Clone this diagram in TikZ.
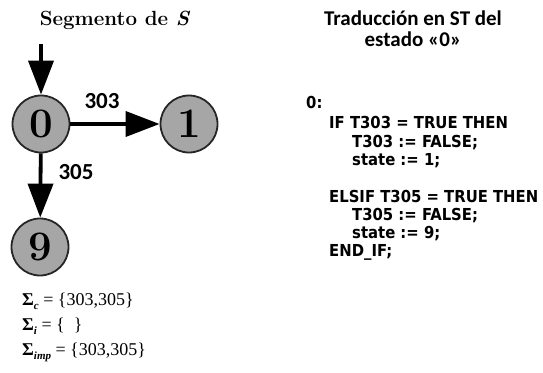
\documentclass[tikz,border=0pt]{standalone}
\usepackage{fontspec}
\newfontfamily\codefont{DejaVu Sans Condensed}
\newfontfamily\headfont{Carlito}
\newfontfamily\setfont{Liberation Serif}
\usetikzlibrary{arrows.meta}

\newcommand{\evset}[2]{{\bfseries Σ}\raisebox{-4pt}{\fontsize{11}{11}\selectfont\bfseries\itshape #1}\ = #2}

\begin{document}
\begin{tikzpicture}[x=1pt,y=-1pt,
    state/.style={circle,draw=black!85,line width=1.8pt,fill=gray!70,
      minimum size=57pt,inner sep=0pt,font=\fontsize{42}{42}\selectfont\bfseries},
    trans/.style={line width=3.8pt,-{Triangle[width=25pt,length=34pt]}},
    tlabel/.style={font=\headfont\fontsize{23}{23}\selectfont\bfseries},
    codeline/.style={anchor=base west,inner sep=0pt,font=\codefont\fontsize{16.5}{16.5}\selectfont\bfseries},
    sigline/.style={anchor=base west,inner sep=0pt,font=\setfont\fontsize{18}{18}\selectfont}]
  \useasboundingbox (0,0) rectangle (543,372);

  % titles
  \node[font=\fontsize{20.5}{20.5}\selectfont\bfseries] (segtitle) at (115,20) {Segmento de \textit{S}};
  \node[font=\headfont\fontsize{21}{21}\selectfont\bfseries,align=center] (sttitle) at (413,29)
    {Traducción en ST del\\[0pt]estado «0»};

  % automaton
  \node[state] (n0) at (41,124) {0};
  \node[state] (n1) at (189,124) {1};
  \node[state] (n9) at (40,247) {9};
  \coordinate (init) at (41,44);

  \draw[trans] (init) -- (n0);
  \draw[trans] (n0) -- (n1);
  \draw[trans] (n0) -- (n9);
  \node[tlabel] (l303) at (102,101) {303};
  \node[tlabel] (l305) at (76,172) {305};

  % event sets
  \node[sigline] (sigc) at (22,305) {\evset{c}{\{303,305\}}};
  \node[sigline] (sigi) at (22,330) {\evset{i}{\{\ \ \}}};
  \node[sigline] (sigimp) at (22,355) {\evset{imp}{\{303,305\}}};

  % ST code
  \foreach \x/\y/\t [count=\i] in {306/108/{0:},
      329/128/{IF T303 = TRUE THEN}, 352/147/{T303 := FALSE;}, 352/165/{state := 1;},
      329/202/{ELSIF T305 = TRUE THEN}, 352/220/{T305 := FALSE;}, 352/238/{state := 9;},
      329/256/{END\_IF;}} {
    \node[codeline] (code\i) at (\x,\y) {\t};
  }
\end{tikzpicture}
\end{document}
